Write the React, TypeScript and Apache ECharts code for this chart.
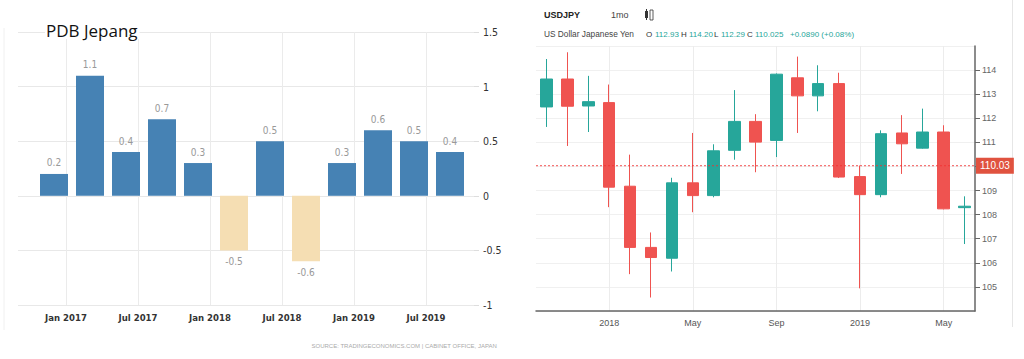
import React, { useEffect, useRef } from "react";
import * as echarts from "echarts";

// ---------- Left panel: Japan GDP growth (QoQ %) ----------
const gdpQuarters = ["2016 Q4", "2017 Q1", "2017 Q2", "2017 Q3", "2017 Q4", "2018 Q1", "2018 Q2", "2018 Q3", "2018 Q4", "2019 Q1", "2019 Q2", "2019 Q3"];
const gdpValues = [0.2, 1.1, 0.4, 0.7, 0.3, -0.5, 0.5, -0.6, 0.3, 0.6, 0.5, 0.4];
const gdpTickLabels = ["Jan 2017", "Jul 2017", "Jan 2018", "Jul 2018", "Jan 2019", "Jul 2019"];
const gdpAxisStart = { year: 2016, month: 8 }; // Sep 2016 (0-based month)
const gdpAxisMonthCount = 39; // Sep 2016 .. Nov 2019

// ---------- Right panel: USDJPY monthly candles ----------
const fxMonths = ["2017-10", "2017-11", "2017-12", "2018-01", "2018-02", "2018-03", "2018-04", "2018-05", "2018-06", "2018-07", "2018-08", "2018-09", "2018-10", "2018-11", "2018-12", "2019-01", "2019-02", "2019-03", "2019-04", "2019-05", "2019-06"];
const fxOpen = [112.47, 113.63, 112.51, 112.65, 109.18, 106.64, 106.19, 109.32, 108.79, 110.67, 111.87, 111.08, 113.68, 112.93, 113.44, 109.58, 108.83, 111.39, 110.76, 111.43, 108.29];
const fxClose = [113.63, 112.5, 112.69, 109.14, 106.64, 106.22, 109.32, 108.79, 110.65, 111.87, 111.01, 113.83, 112.93, 113.44, 109.56, 108.83, 111.36, 110.94, 111.43, 108.24, 108.35];
const fxLow = [111.64, 110.85, 111.43, 108.31, 105.53, 104.56, 105.64, 108.1, 108.72, 110.28, 109.76, 110.39, 111.39, 112.29, 109.52, 104.94, 108.72, 109.69, 110.74, 108.22, 106.78];
const fxHigh = [114.46, 114.74, 113.76, 113.4, 110.49, 107.26, 109.53, 111.39, 110.92, 113.17, 112.17, 113.86, 114.56, 114.2, 113.89, 110.04, 111.5, 112.13, 112.4, 111.71, 108.76];
const fxTickMonths = ["2018-01", "2018-05", "2018-09", "2019-01", "2019-05"];
const fxLastPrice = 110.03;

const MONTHS = ["Jan", "Feb", "Mar", "Apr", "May", "Jun", "Jul", "Aug", "Sep", "Oct", "Nov", "Dec"];
const NARROW = "'Liberation Sans Narrow', 'DejaVu Sans Condensed', sans-serif";
const SANS = "'Liberation Sans', Arial, sans-serif";
const UP = "#26a69a";
const DOWN = "#ef5350";
const LAST_RED = "#f23030";

function quarterToMonthPos(q: string): number {
  const [y, qq] = q.split(" Q");
  return (Number(y) - 2017) * 12 + Number(qq) * 3 - 1;
}

export default function App() {
  const ref = useRef<HTMLDivElement>(null);
  useEffect(() => {
    if (!ref.current) return;
    const chart = echarts.init(ref.current, undefined, { renderer: "svg" });

    const gdpMonthCats: string[] = [];
    for (let i = 0; i < gdpAxisMonthCount; i++) {
      const m = gdpAxisStart.month + i;
      gdpMonthCats.push(MONTHS[m % 12] + " " + (gdpAxisStart.year + Math.floor(m / 12)));
    }
    const gdpMinPos = -4;
    const gdpMaxPos = gdpMinPos + gdpAxisMonthCount - 1;

    const barData = gdpQuarters.map((q, i) => ({
      value: [quarterToMonthPos(q), gdpValues[i]],
      itemStyle: { color: gdpValues[i] >= 0 ? "#4682b4" : "#f5deb3" },
      label: { position: gdpValues[i] >= 0 ? "top" : "bottom" },
    }));

    // half-step grid axis so that split lines fall on candle centres
    const fxHalfSteps: string[] = [""];
    fxMonths.forEach((m) => fxHalfSteps.push(m, ""));

    const candleData = fxMonths.map((_, i) => [fxOpen[i], fxClose[i], fxLow[i], fxHigh[i]]);
    const isFxTick = (_i: number, v: string) => fxTickMonths.includes(v);
    const isGdpTick = (_i: number, v: string) => gdpTickLabels.includes(v);

    chart.setOption({
      animation: false,
      backgroundColor: "#ffffff",
      grid: [
        { left: 18, right: 550, top: 32, bottom: 54 },
        { left: 536, right: 49, top: 46, bottom: 48 },
      ],
      xAxis: [
        {
          type: "category",
          gridIndex: 0,
          data: gdpMonthCats,
          boundaryGap: false,
          axisLine: { show: false, onZero: false },
          axisTick: { show: false },
          axisLabel: {
            interval: isGdpTick,
            color: "#333",
            fontFamily: NARROW,
            fontSize: 9.5,
            fontWeight: "bold",
            margin: 7,
          },
          splitLine: { show: true, interval: isGdpTick, lineStyle: { color: "#ebebeb", width: 1 } },
        },
        {
          type: "value",
          gridIndex: 0,
          min: gdpMinPos,
          max: gdpMaxPos,
          show: false,
          axisLine: { onZero: false },
          splitLine: { show: false },
        },
        {
          type: "category",
          gridIndex: 1,
          data: fxMonths,
          boundaryGap: true,
          axisLine: { show: true, onZero: false, lineStyle: { color: "#666", width: 1.5 } },
          axisTick: { show: false },
          axisLabel: {
            interval: isFxTick,
            formatter: (v: string) => {
              const [y, m] = v.split("-");
              return m === "01" ? y : MONTHS[Number(m) - 1];
            },
            color: "#555",
            fontFamily: SANS,
            fontSize: 9,
            margin: 7,
          },
          splitLine: { show: false },
        },
        {
          type: "category",
          gridIndex: 1,
          data: fxHalfSteps,
          boundaryGap: false,
          axisLine: { show: false, onZero: false },
          axisTick: { show: false },
          axisLabel: { show: false },
          splitLine: { show: true, interval: isFxTick, lineStyle: { color: "#ececec" } },
        },
        {
          type: "value",
          gridIndex: 1,
          min: 0,
          max: 1,
          show: false,
          axisLine: { onZero: false },
          splitLine: { show: false },
        },
      ],
      yAxis: [
        {
          type: "value",
          gridIndex: 0,
          position: "right",
          min: -1,
          max: 1.5,
          interval: 0.5,
          axisLine: { show: false, onZero: false },
          axisTick: { show: true, length: 5, lineStyle: { color: "#ddd" } },
          axisLabel: { color: "#333", fontFamily: NARROW, fontSize: 10.5, margin: 9 },
          splitLine: { lineStyle: { color: "#e8e8e8" } },
        },
        {
          type: "value",
          gridIndex: 1,
          position: "right",
          min: 104,
          max: 115,
          interval: 1,
          axisLine: { show: true, onZero: false, lineStyle: { color: "#666", width: 1.5 } },
          axisTick: { show: true, length: 5, lineStyle: { color: "#666" } },
          axisLabel: {
            color: "#666",
            fontFamily: SANS,
            fontSize: 9,
            margin: 7,
            showMinLabel: false,
            showMaxLabel: false,
            // the value nearest the last-price tag is hidden beneath it
            formatter: (v: number) => (Math.abs(v - fxLastPrice) < 0.5 ? "" : String(v)),
          },
          splitLine: { lineStyle: { color: "#f0f0f0" } },
        },
      ],
      series: [
        {
          type: "bar",
          xAxisIndex: 1,
          yAxisIndex: 0,
          barWidth: 28,
          data: barData,
          label: {
            show: true,
            color: "#999",
            fontFamily: NARROW,
            fontSize: 10,
            distance: 6,
            formatter: (p: any) => String(p.value[1]),
          },
        },
        {
          type: "candlestick",
          xAxisIndex: 2,
          yAxisIndex: 1,
          barWidth: 12,
          data: candleData,
          itemStyle: { color: UP, color0: DOWN, borderColor: UP, borderColor0: DOWN, borderWidth: 1 },
        },
        {
          type: "line",
          xAxisIndex: 4,
          yAxisIndex: 1,
          z: 6,
          silent: true,
          symbol: "none",
          color: LAST_RED,
          data: [
            [0, fxLastPrice],
            [1, fxLastPrice],
          ],
          lineStyle: { color: LAST_RED, type: [2, 2], width: 1, opacity: 0.85 },
          endLabel: {
            show: true,
            distance: 1,
            formatter: () => fxLastPrice.toFixed(2),
            color: "#fff",
            backgroundColor: "#e0523f",
            padding: [3, 4, 3, 4],
            fontFamily: SANS,
            fontSize: 10,
          },
        },
      ],
      graphic: [
        { type: "line", shape: { x1: 4, y1: 28, x2: 4, y2: 330 }, style: { stroke: "#f0f0f0", lineWidth: 1 } },
        { type: "line", shape: { x1: 1012.5, y1: 0, x2: 1012.5, y2: 327 }, style: { stroke: "#e6e6e6", lineWidth: 1 } },
        {
          type: "text",
          left: 45,
          top: 22,
          z: 10,
          style: {
            text: "PDB Jepang",
            fill: "#111",
            font: "17px 'Open Sans', 'Noto Sans', sans-serif",
            backgroundColor: "#ffffff",
            padding: [0, 2, 0, 1],
          },
        },
        {
          type: "text",
          right: 527,
          top: 343,
          style: { text: "SOURCE: TRADINGECONOMICS.COM | CABINET OFFICE, JAPAN", fill: "#aaa", font: "6px " + SANS },
        },
        { type: "text", left: 544, top: 10, style: { text: "USDJPY", fill: "#222", font: "bold 9px " + SANS } },
        { type: "text", left: 611, top: 10, style: { text: "1mo", fill: "#444", font: "9px " + SANS } },
        { type: "rect", shape: { x: 645, y: 11, width: 3, height: 7 }, style: { fill: "#333" } },
        { type: "line", shape: { x1: 646.5, y1: 9, x2: 646.5, y2: 20 }, style: { stroke: "#333", lineWidth: 1 } },
        { type: "rect", shape: { x: 650, y: 10, width: 3, height: 10 }, style: { fill: "none", stroke: "#333", lineWidth: 0.8 } },
        { type: "text", left: 544, top: 30, style: { text: "US Dollar Japanese Yen", fill: "#444", font: "8.3px " + SANS } },
        { type: "text", left: 646, top: 30, style: { text: "O", fill: "#333", font: "8px " + SANS } },
        { type: "text", left: 655, top: 30, style: { text: "112.93", fill: UP, font: "8px " + SANS } },
        { type: "text", left: 681, top: 30, style: { text: "H", fill: "#333", font: "8px " + SANS } },
        { type: "text", left: 689, top: 30, style: { text: "114.20", fill: UP, font: "8px " + SANS } },
        { type: "text", left: 714, top: 30, style: { text: "L", fill: "#333", font: "8px " + SANS } },
        { type: "text", left: 721, top: 30, style: { text: "112.29", fill: UP, font: "8px " + SANS } },
        { type: "text", left: 747, top: 30, style: { text: "C", fill: "#333", font: "8px " + SANS } },
        { type: "text", left: 755, top: 30, style: { text: "110.025", fill: UP, font: "8px " + SANS } },
        { type: "text", left: 790, top: 30, style: { text: "+0.0890 (+0.08%)", fill: UP, font: "8px " + SANS } },
      ],
    });
    return () => chart.dispose();
  }, []);
  return <div ref={ref} style={{ position: "fixed", left: 0, top: 0, width: 1024, height: 359 }} />;
}
